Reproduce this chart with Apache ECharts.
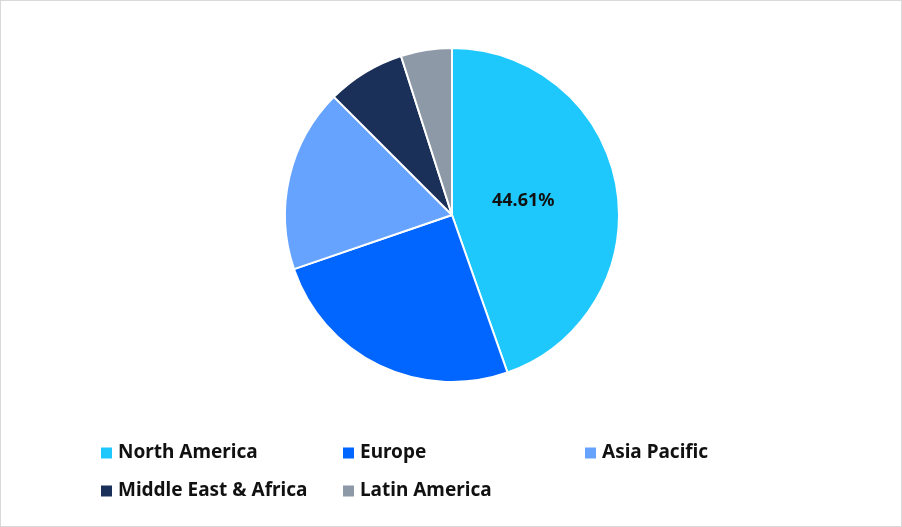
<!DOCTYPE html>
<html>
<head>
<meta charset="utf-8">
<script src="https://cdn.jsdelivr.net/npm/echarts@6/dist/echarts.min.js"></script>
<style>
  html, body { margin: 0; padding: 0; background: #fff; }
  #chart { width: 900px; height: 525px; border: 1px solid #d9d9d9; }
</style>
</head>
<body>
<div id="chart"></div>
<script>
const regions = ['North America', 'Europe', 'Asia Pacific', 'Middle East & Africa', 'Latin America'];
const shares = [44.61, 25.14, 17.75, 7.56, 4.94];
const colors = ['#1ec8fc', '#0066ff', '#66a3ff', '#1b3058', '#8e99a8'];

const chart = echarts.init(document.querySelector('#chart'));
chart.setOption({
  animation: false,
  color: colors,
  legend: {
    data: regions,
    left: 93,
    top: 428,
    width: 760,
    itemGap: 0,
    itemWidth: 13,
    itemHeight: 13,
    icon: 'rect',
    textStyle: {
      fontFamily: 'Noto Sans',
      fontWeight: 'bold',
      fontSize: 19,
      color: '#111',
      width: 223,
      lineHeight: 38
    }
  },
  series: [{
    type: 'pie',
    center: [451, 214],
    radius: 167,
    startAngle: 90,
    clockwise: true,
    itemStyle: { borderColor: '#fff', borderWidth: 2 },
    label: {
      show: true,
      position: 'inside',
      offset: [-14, 0],
      fontFamily: 'Noto Sans',
      fontWeight: 'bold',
      fontSize: 18,
      color: '#111',
      formatter: p => p.dataIndex === 0 ? p.value.toFixed(2) + '%' : ''
    },
    labelLine: { show: false },
    data: regions.map((n, i) => ({ name: n, value: shares[i] }))
  }]
});
</script>
</body>
</html>
